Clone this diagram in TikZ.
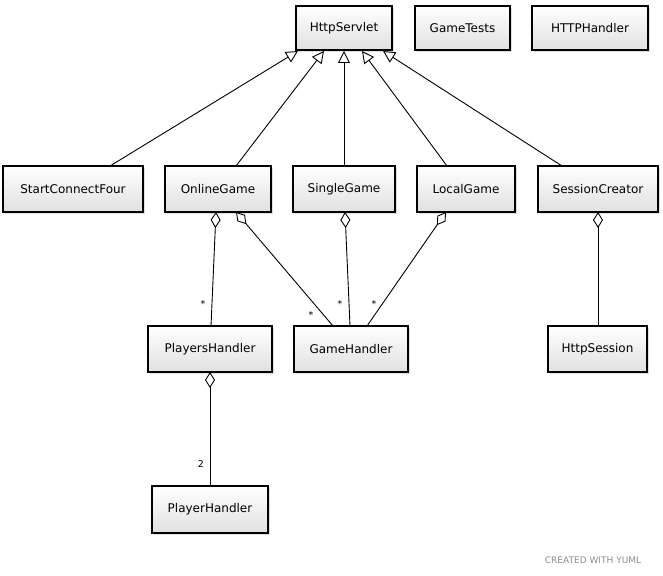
\documentclass[tikz,border=0pt]{standalone}
\usepackage{fontspec}
\setmainfont{DejaVu Sans}
\usetikzlibrary{arrows.meta,shadows}
\begin{document}
\begin{tikzpicture}[x=1pt,y=-1pt,
  cls/.style={draw=black,line width=1.1pt,top color=white,bottom color=black!12,
    drop shadow={shadow xshift=2pt,shadow yshift=-2pt,opacity=0.25},
    font=\fontsize{12}{14}\selectfont,inner sep=0pt},
  gen/.style={draw=black,line width=0.9pt,-{Triangle[open,width=12pt,length=12pt,fill=white]}},
  agg/.style={draw=black,line width=0.9pt,{Diamond[open,width=10pt,length=16pt,fill=white]}-},
  mult/.style={font=\fontsize{9.5}{12}\selectfont,inner sep=0pt}]
\useasboundingbox (0,0) rectangle (663,575);
\newcommand\cbox[6]{\node[cls,minimum width={#4-#2},minimum height={#5-#3}] (#1) at ({(#2+#4)/2},{(#3+#5)/2}) {#6};}
\cbox{servlet}{296}{6}{392}{50}{HttpServlet}
\cbox{tests}{415}{6}{510}{50}{GameTests}
\cbox{httph}{532}{6}{648}{50}{HTTPHandler}
\cbox{start}{3}{166}{143}{212}{StartConnectFour}
\cbox{online}{165}{166}{271}{212}{OnlineGame}
\cbox{single}{293}{166}{395}{212}{SingleGame}
\cbox{local}{417}{166}{515}{212}{LocalGame}
\cbox{session}{538}{166}{658}{212}{SessionCreator}
\cbox{players}{148}{326}{272}{372}{PlayersHandler}
\cbox{gameh}{294}{326}{408}{372}{GameHandler}
\cbox{https}{548}{326}{647}{372}{HttpSession}
\cbox{player}{152}{486}{268}{533}{PlayerHandler}
% generalisation
\coordinate (g1) at (298,51);
\coordinate (g2) at (324,51);
\coordinate (g3) at (344,51);
\coordinate (g4) at (362,51);
\coordinate (g5) at (383,51);
\coordinate (s1) at (110,166);
\coordinate (s2) at (236,166);
\coordinate (s3) at (344,166);
\coordinate (s4) at (447,166);
\coordinate (s5) at (562,166);
\draw[gen] (s1) -- (g1);
\draw[gen] (s2) -- (g2);
\draw[gen] (s3) -- (g3);
\draw[gen] (s4) -- (g4);
\draw[gen] (s5) -- (g5);
% aggregation
\coordinate (a1) at (216,212); \coordinate (b1) at (211,326);
\coordinate (a2) at (236,212); \coordinate (b2) at (333,326);
\coordinate (a3) at (345,212); \coordinate (b3) at (350,326);
\coordinate (a4) at (446,212); \coordinate (b4) at (367,326);
\coordinate (a5) at (598,212); \coordinate (b5) at (598,326);
\coordinate (a6) at (210,372); \coordinate (b6) at (210,486);
\draw[agg] (a1) -- (b1);
\draw[agg] (a2) -- (b2);
\draw[agg] (a3) -- (b3);
\draw[agg] (a4) -- (b4);
\draw[agg] (a5) -- (b5);
\draw[agg] (a6) -- (b6);
\node[mult] (m1) at (203,304) {*};
\node[mult] (m2) at (311,315) {*};
\node[mult] (m3) at (340,304) {*};
\node[mult] (m4) at (374,304) {*};
\node[mult] (m5) at (201,464) {2};
\node[font=\fontsize{9}{10}\selectfont,text=black!45,inner sep=0pt] (credit) at (593,560) {CREATED WITH YUML};
\end{tikzpicture}
\end{document}
